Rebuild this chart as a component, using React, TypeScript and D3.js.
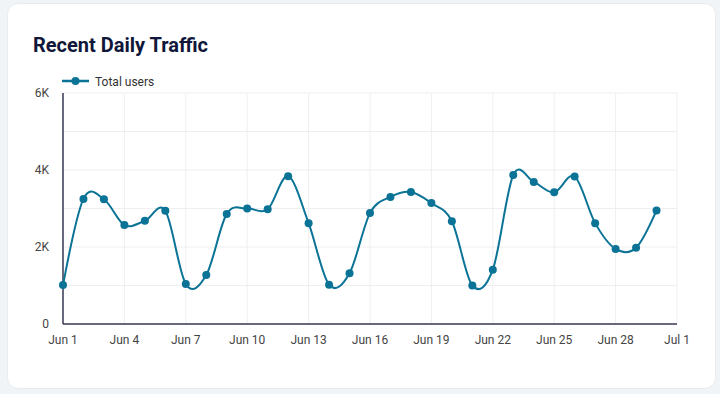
import * as d3 from "d3";

const days = d3.range(1, 31).map((d) => new Date(2024, 5, d));
const totalUsers = [
  1010, 3250, 3240, 2570, 2680, 2940, 1040, 1270, 2860, 3000,
  2980, 3840, 2620, 1020, 1320, 2880, 3300, 3430, 3140, 2670,
  1000, 1410, 3870, 3690, 3420, 3830, 2620, 1950, 1980, 2950,
];
const yTickLabels = [0, 2000, 4000, 6000];

const width = 720;
const height = 394;
const marginLeft = 63;
const marginRight = 43;
const marginTop = 93;
const marginBottom = 70;
const lineColor = "#0a7396";
const font = "Roboto, sans-serif";

const App = () => {
  const chartBottomY = height - marginBottom;

  const xScale = d3
    .scaleTime()
    .domain([new Date(2024, 5, 1), new Date(2024, 6, 1)])
    .range([marginLeft, width - marginRight]);

  const yScale = d3
    .scaleLinear()
    .domain([0, 6000])
    .range([chartBottomY, marginTop]);

  const xTicks = d3.timeDay.every(3).range(new Date(2024, 5, 1), new Date(2024, 6, 2));
  const fmtDate = d3.timeFormat("%b %-d");
  const fmtY = (v) => (v === 0 ? "0" : `${v / 1000}K`);

  const line = d3
    .line()
    .x((d, i) => xScale(days[i]))
    .y((d) => yScale(d))
    .curve(d3.curveCardinal.tension(0));

  return (
    <>
      <style>{"body{margin:0;}"}</style>
      <svg width={width} height={height} style={{ display: "block", fontFamily: font }}>
        <rect width={width} height={height} fill="#f1f4f6" />
        {/* card */}
        <rect x={7.5} y={3.5} width={708} height={385} rx={11} fill="#ffffff" stroke="#e8ecef" />
        <text x={33} y={52} fontSize={20} fontWeight={700} fill="#10173a">
          Recent Daily Traffic
        </text>

        {/* legend */}
        <g>
          <line x1={62} x2={89} y1={81} y2={81} stroke={lineColor} strokeWidth={2.5} />
          <circle cx={75.5} cy={81} r={4} fill={lineColor} />
          <text x={95} y={85.5} fontSize={12} fill="#333">
            Total users
          </text>
        </g>

        {/* grid */}
        <g className="grid">
          {d3.range(0, 6001, 1000).map((v) => (
            <line
              key={v}
              x1={marginLeft}
              x2={width - marginRight}
              y1={yScale(v)}
              y2={yScale(v)}
              stroke="#efefef"
            />
          ))}
          {xTicks.map((t) => (
            <line
              key={+t}
              x1={xScale(t)}
              x2={xScale(t)}
              y1={marginTop}
              y2={chartBottomY}
              stroke="#efefef"
            />
          ))}
        </g>

        {/* axes */}
        <line x1={marginLeft} x2={marginLeft} y1={marginTop} y2={chartBottomY} stroke="#3a3a55" strokeWidth={1.5} />
        <line x1={marginLeft} x2={width - marginRight} y1={chartBottomY} y2={chartBottomY} stroke="#3a3a55" strokeWidth={1.5} />
        {yTickLabels.map((v) => (
          <text key={v} x={49} y={yScale(v) + 4} textAnchor="end" fontSize={12} fill="#444">
            {fmtY(v)}
          </text>
        ))}
        {xTicks.map((t) => (
          <text key={+t} x={xScale(t)} y={344} textAnchor="middle" fontSize={12} fill="#444">
            {fmtDate(t)}
          </text>
        ))}

        {/* series */}
        <path d={line(totalUsers)} fill="none" stroke={lineColor} strokeWidth={2} />
        {totalUsers.map((v, i) => (
          <circle key={i} cx={xScale(days[i])} cy={yScale(v)} r={4} fill={lineColor} />
        ))}
      </svg>
    </>
  );
};

export default App;
